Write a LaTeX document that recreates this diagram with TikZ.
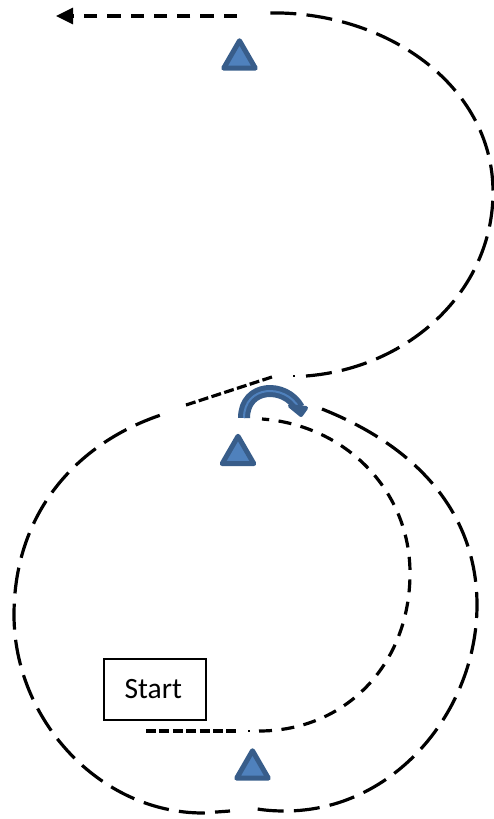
\documentclass[tikz,border=0pt]{standalone}
\usepackage{fontspec}
\setmainfont{Carlito}
\usetikzlibrary{arrows.meta}
\usetikzlibrary{shapes.geometric}
\definecolor{markerblue}{RGB}{79,129,189}
\definecolor{markeredge}{RGB}{56,93,138}
\tikzset{
    longdash/.style={line width=3.2pt, dash pattern=on 26pt off 10.25pt},
    shortdash/.style={line width=3.2pt, dash pattern=on 13pt off 9.5pt},
    exitdash/.style={line width=3.2pt, dash pattern=on 13.3pt off 10pt},
    tightdash/.style={line width=3.2pt, dash pattern=on 10pt off 3.4pt},
    speck/.style={line width=2pt},
    marker/.style={regular polygon, regular polygon sides=3, minimum size=36.5pt, inner sep=0pt,
        fill=markerblue, draw=markeredge, line width=5pt, line join=round},
}
\begin{document}
\begin{tikzpicture}[x=1pt, y=-1pt]
    \useasboundingbox (0,0) rectangle (494,819);

    \node[marker] (top) at (239.5,59) {};
    \node[marker] (mid) at (238,454.5) {};
    \node[marker] (low) at (252.5,769) {};
    \node[draw, line width=2pt, minimum width=101.5pt, minimum height=61pt, inner sep=0pt,
        font=\fontsize{29.5}{32}\selectfont] (start) at (154.8,689) {\hspace{-3pt}Start};

    \coordinate (startA) at (146,731);
    \coordinate (startB) at (236,731);
    \coordinate (speckA) at (249,730);
    \coordinate (speckB) at (249,732);
    \coordinate (innerA) at (259,731);
    \coordinate (innerR) at (410,573);
    \coordinate (innerT) at (262,419);
    \coordinate (outerT) at (322,409);
    \coordinate (outerR) at (477,605);
    \coordinate (outerB) at (285,811);
    \coordinate (outerC) at (252,808);
    \coordinate (loopA) at (230,811);
    \coordinate (loopB) at (203,813);
    \coordinate (loopL) at (14,615);
    \coordinate (loopE) at (167,413);
    \coordinate (neckA) at (186,405);
    \coordinate (neckB) at (275,376);
    \coordinate (speckC) at (294,375);
    \coordinate (speckD) at (294,377);
    \coordinate (upperA) at (306,376);
    \coordinate (upperR) at (493,192);
    \coordinate (upperT) at (267,13);
    \coordinate (exitA) at (237,16);
    \coordinate (exitB) at (56,16);

    % path of travel
    \draw[tightdash] (startA) -- (startB);
    \draw[speck] (speckA) -- (speckB);
    \draw[shortdash] (innerA) .. controls (345,731) and (410,665) .. (innerR)
        .. controls (410,490) and (345,425) .. (innerT);
    \draw[longdash] (outerT) .. controls (425,450) and (477,520) .. (outerR)
        .. controls (477,710) and (395,811) .. (outerB)
        .. controls (272,811) and (262,810) .. (outerC);
    \draw[longdash, dash phase=11pt] (loopA) -- (loopB)
        .. controls (100,813) and (14,720) .. (loopL)
        .. controls (14,510) and (80,440) .. (loopE);
    \draw[tightdash] (neckA) -- (neckB);
    \draw[speck] (speckC) -- (speckD);
    \draw[longdash] (upperA) .. controls (410,368) and (493,290) .. (upperR)
        .. controls (493,85) and (385,10) .. (upperT);
    \draw[exitdash, -{Triangle[length=17pt, width=16pt]}] (exitA) -- (exitB);

    % turn arrow
    \coordinate (turnA) at (244,418);
    \coordinate (turnB) at (299,408);
    \draw[markeredge, line width=12pt] (turnA) .. controls (244,385) and (285,383) .. (turnB);
    \draw[markerblue, line width=2pt] (turnA) .. controls (244,385) and (285,383) .. (turnB);
    \draw[markeredge, line width=4pt, line join=round, fill=markeredge]
        (290,406) -- (306,408) -- (301,415) -- cycle;
\end{tikzpicture}
\end{document}
